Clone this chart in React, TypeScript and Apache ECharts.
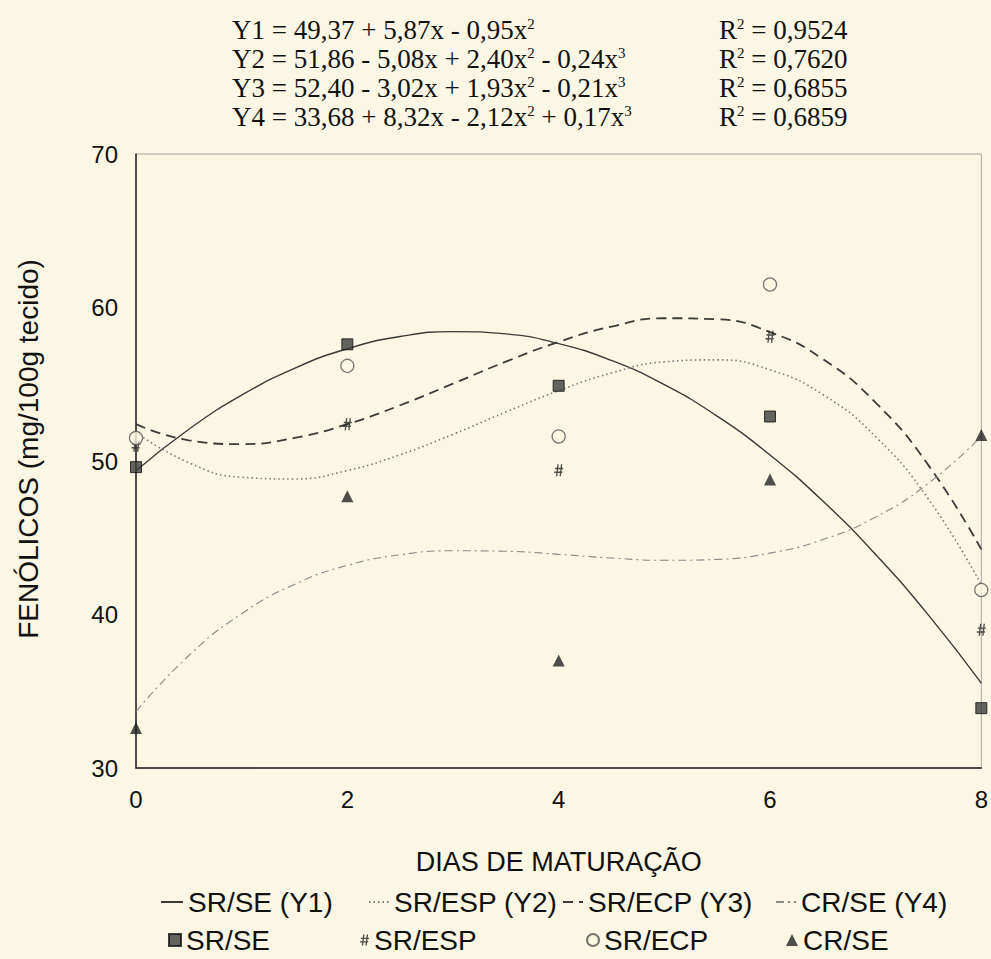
import React, { useEffect, useRef } from "react";
import * as echarts from "echarts";

// Observed days
const days = [0, 2, 4, 6, 8];
// Measured points
const srSe = [49.6, 57.6, 54.9, 52.9, 33.9];
const srEsp = [51.0, 52.4, 49.4, 58.1, 39.0];
const srEcp = [51.5, 56.2, 51.6, 61.5, 41.6];
const crSe = [32.6, 47.7, 37.0, 48.8, 51.7];

// Fitted curves read along the day axis
const curveX = [0, 0.5, 1, 1.5, 2, 2.5, 3, 3.5, 4, 4.5, 5, 5.5, 6, 6.5, 7, 7.5, 8];
const y1 = [49.37, 52.07, 54.29, 56.04, 57.31, 58.11, 58.43, 58.28, 57.65, 56.55, 54.97, 52.92, 50.39, 47.39, 43.91, 39.96, 35.53];
const y2 = [51.86, 49.89, 48.94, 48.83, 49.38, 50.41, 51.74, 53.19, 54.58, 55.73, 56.46, 56.59, 55.94, 54.33, 51.58, 47.51, 41.94];
const y3 = [52.4, 51.35, 51.1, 51.5, 52.4, 53.63, 55.04, 56.47, 57.76, 58.76, 59.3, 59.23, 58.4, 56.64, 53.8, 49.72, 44.24];
const y4 = [33.68, 37.33, 40.05, 41.96, 43.2, 43.89, 44.15, 44.12, 43.92, 43.68, 43.53, 43.59, 44.0, 44.88, 46.35, 48.55, 51.6];

const equations = [
  "Y1 = 49,37 + 5,87x - 0,95x{s|2}",
  "Y2 = 51,86 - 5,08x + 2,40x{s|2} - 0,24x{s|3}",
  "Y3 = 52,40 - 3,02x + 1,93x{s|2} - 0,21x{s|3}",
  "Y4 = 33,68 + 8,32x - 2,12x{s|2} + 0,17x{s|3}",
];
const r2 = ["0,9524", "0,7620", "0,6855", "0,6859"];

const lineNames = ["SR/SE (Y1)", "SR/ESP (Y2)", "SR/ECP (Y3)", "CR/SE (Y4)"];
const pointNames = ["SR/SE", "SR/ESP", "SR/ECP", "CR/SE"];

const HASH =
  "path://M3.5,0 L5,0 L3.5,12 L2,12 Z M7.5,0 L9,0 L7.5,12 L6,12 Z M1,3.6 L10,3.6 L10,5 L1,5 Z M0,7.4 L9,7.4 L9,8.8 L0,8.8 Z";

const SANS = "'Liberation Sans', Arial, sans-serif";
const SERIF = "'Liberation Serif', 'Times New Roman', serif";
const BG = "#fbf7e4";

export default function App() {
  const ref = useRef<HTMLDivElement>(null);
  useEffect(() => {
    if (!ref.current) return;
    const chart = echarts.init(ref.current, undefined, { renderer: "svg" });
    const pair = (xs: number[], ys: number[]) => xs.map((x, i) => [x, ys[i]]);

    const lineStyles: any[] = [
      { color: "#3a3a3a", width: 1.4, type: "solid" },
      { color: "#7a7a7a", width: 1.6, type: [1.5, 3] },
      { color: "#3a3a3a", width: 1.8, type: [10, 6] },
      { color: "#8a8a8a", width: 1.1, type: [8, 4, 2, 4] },
    ];
    const curves = [y1, y2, y3, y4];

    const lineSeries = curves.map((c, i) => ({
      name: lineNames[i],
      type: "line",
      data: pair(curveX, c),
      smooth: true,
      symbol: "none",
      lineStyle: lineStyles[i],
      itemStyle: { color: lineStyles[i].color },
      z: 2,
    }));

    const pts = [srSe, srEsp, srEcp, crSe];
    const symbols = ["rect", HASH, "circle", "triangle"];
    const sizes: any[] = [11, [9, 12], 13, 12];
    const pointSeries = pts.map((p, i) => ({
      name: pointNames[i],
      type: "scatter",
      data: pair(days, p),
      symbol: symbols[i],
      symbolSize: sizes[i],
      itemStyle:
        i === 2
          ? { color: BG, borderColor: "#555", borderWidth: 1.3 }
          : i === 0
          ? { color: "#3c3c3c", borderColor: "#111", borderWidth: 1 }
          : { color: "#222" },
      z: 3,
    }));

    const legendPos = [
      { left: 160, top: 888, w: 22, h: 10 },
      { left: 368, top: 888, w: 20, h: 10 },
      { left: 562, top: 888, w: 20, h: 10 },
      { left: 775, top: 888, w: 20, h: 10 },
    ];
    const legendPos2 = [
      { left: 168, top: 926, w: 12, h: 12 },
      { left: 360, top: 926, w: 9, h: 12 },
      { left: 586, top: 926, w: 12, h: 12 },
      { left: 786, top: 926, w: 12, h: 12 },
    ];
    const mkLegend = (name: string, p: any, hideSymbol: boolean) => ({
      data: [name],
      left: p.left,
      top: p.top,
      padding: 0,
      itemWidth: p.w,
      itemHeight: p.h,
      itemGap: 0,
      selectedMode: false,
      ...(hideSymbol ? { itemStyle: { opacity: 0, color: "rgba(0,0,0,0)", borderWidth: 0 } } : {}),
      textStyle: { fontFamily: SANS, fontSize: 28, color: "#111" },
    });
    const legends = [
      ...lineNames.map((n, i) => mkLegend(n, legendPos[i], true)),
      ...pointNames.map((n, i) => mkLegend(n, legendPos2[i], false)),
    ];

    const eqGraphics: any[] = [];
    const rich = {
      s: { fontSize: 15, fontFamily: SERIF, verticalAlign: "top", fill: "#111", padding: [0, 0, 10, 0] },
    };
    equations.forEach((t, i) => {
      eqGraphics.push({
        type: "text",
        left: 232,
        top: 16 + i * 29,
        style: { text: t, fontFamily: SERIF, fontSize: 27, fill: "#111", rich },
      });
      eqGraphics.push({
        type: "text",
        left: 719,
        top: 16 + i * 29,
        style: { text: "R{s|2} = " + r2[i], fontFamily: SERIF, fontSize: 27, fill: "#111", rich },
      });
    });

    chart.setOption({
      animation: false,
      backgroundColor: BG,
      grid: {
        left: 136,
        right: 8,
        top: 154,
        bottom: 191,
        show: true,
        borderColor: "#a5a5a5",
        borderWidth: 1,
        backgroundColor: "transparent",
      },
      xAxis: {
        type: "value",
        min: 0,
        max: 8,
        interval: 2,
        name: "DIAS DE MATURAÇÃO",
        nameLocation: "middle",
        nameGap: 80,
        nameTextStyle: { fontFamily: SANS, fontSize: 27, color: "#111" },
        axisLine: { show: true, lineStyle: { color: "#222", width: 1.5 } },
        axisTick: { show: false },
        splitLine: { show: false },
        axisLabel: { fontFamily: SANS, fontSize: 24, color: "#111", margin: 19 },
      },
      yAxis: {
        type: "value",
        min: 30,
        max: 70,
        interval: 10,
        name: "FENÓLICOS (mg/100g tecido)",
        nameLocation: "middle",
        nameGap: 94,
        nameRotate: 90,
        nameTextStyle: { fontFamily: SANS, fontSize: 28, color: "#111", padding: [0, 0, 0, 24] },
        axisLine: { show: true, lineStyle: { color: "#222", width: 1.5 } },
        axisTick: { show: false },
        splitLine: { show: false },
        axisLabel: { fontFamily: SANS, fontSize: 24, color: "#111", margin: 18 },
      },
      legend: legends,
      graphic: eqGraphics,
      series: [...lineSeries, ...pointSeries],
    });
    return () => chart.dispose();
  }, []);
  return (
    <div
      ref={ref}
      style={{ position: "fixed", left: 0, top: 0, width: 991, height: 959, background: BG }}
    />
  );
}
